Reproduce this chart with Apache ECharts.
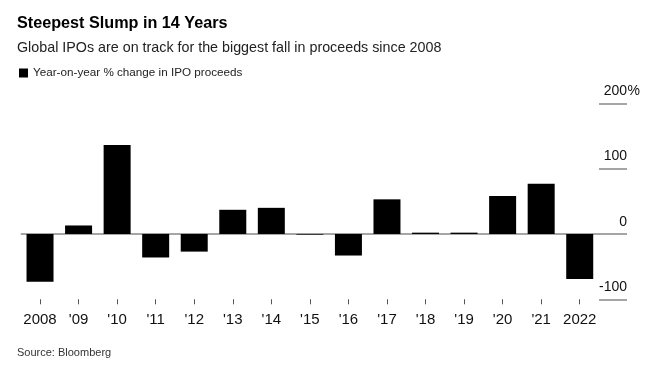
<!DOCTYPE html>
<html>
<head>
<meta charset="utf-8">
<script src="https://cdn.jsdelivr.net/npm/echarts@6/dist/echarts.min.js"></script>
<style>
  html, body { margin: 0; padding: 0; background: #fff; }
  #chart { width: 657px; height: 376px; }
</style>
</head>
<body>
<div id="chart"></div>
<script>
// years on the x axis
var categories = ['2008', "'09", "'10", "'11", "'12", "'13", "'14", "'15", "'16", "'17", "'18", "'19", "'20", "'21", '2022'];
// year-on-year % change in IPO proceeds
var yoyChange = [-73, 13, 136, -36, -27, 37, 40, -1, -33, 53, 2, 2, 58, 77, -69];
// y axis ticks
var yTicks = [-100, 0, 100, 200];

var font = '"Liberation Sans", Arial, sans-serif';

var chart = echarts.init(document.getElementById('chart'));
var option = {
  animation: false,
  textStyle: { fontFamily: font },
  title: [
    {
      text: 'Steepest Slump in 14 Years',
      left: 12, top: 11,
      textStyle: { fontSize: 16.2, fontWeight: 'bold', color: '#000', fontFamily: font }
    },
    {
      text: 'Global IPOs are on track for the biggest fall in proceeds since 2008',
      left: 12, top: 36,
      textStyle: { fontSize: 14.3, fontWeight: 'normal', color: '#222', fontFamily: font }
    },
    {
      text: 'Source: Bloomberg',
      left: 12, top: 342,
      textStyle: { fontSize: 11, fontWeight: 'normal', color: '#333', fontFamily: font }
    }
  ],
  legend: {
    left: 14, top: 62,
    icon: 'rect',
    itemWidth: 9, itemHeight: 9,
    itemGap: 10,
    textStyle: { fontSize: 11.7, color: '#222', fontFamily: font },
    data: ['Year-on-year % change in IPO proceeds']
  },
  grid: {
    left: 20.75, right: 58, top: 103.3, bottom: 76.7,
    containLabel: false,
    outerBoundsMode: 'none'
  },
  xAxis: {
    type: 'category',
    data: categories,
    axisLine: { show: false, onZero: false },
    axisTick: { show: true, alignWithLabel: true, interval: 0, length: 5, lineStyle: { color: '#555' } },
    axisLabel: { interval: 0, margin: 13, fontSize: 15, color: '#111', fontFamily: font }
  },
  yAxis: {
    type: 'value',
    position: 'right',
    min: yTicks[0], max: yTicks[yTicks.length - 1], interval: 100,
    axisLine: { show: false },
    splitLine: { show: false },
    axisTick: { show: true, length: 28, lineStyle: { color: '#888', width: 1.5 } },
    axisLabel: {
      margin: 41,
      align: 'right',
      verticalAlign: 'bottom',
      padding: [0, 0, 5, 0],
      fontSize: 14,
      color: '#111',
      fontFamily: font,
      formatter: function (v) {
        return v === 200 ? '{n|200}{p|%}' : '{n|' + v + '}{h| }';
      },
      rich: {
        n: { fontSize: 14, color: '#111', fontFamily: font },
        p: { fontSize: 14, color: '#111', fontFamily: font, width: 13 },
        h: { fontSize: 14, width: 13 }
      }
    }
  },
  series: [
    {
      name: 'Year-on-year % change in IPO proceeds',
      type: 'bar',
      data: yoyChange,
      barWidth: 27,
      itemStyle: { color: '#000' },
      z: 3,
      markLine: {
        silent: true,
        symbol: 'none',
        z: 1,
        label: { show: false },
        lineStyle: { color: '#888', width: 1.5, type: 'solid' },
        data: [{ yAxis: 0 }]
      }
    }
  ]
};
chart.setOption(option);
</script>
</body>
</html>
